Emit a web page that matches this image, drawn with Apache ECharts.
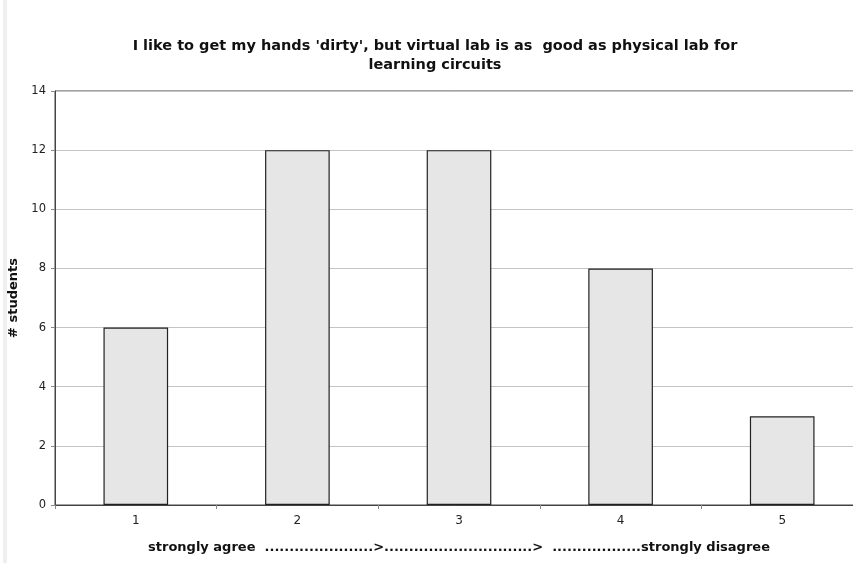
<!DOCTYPE html>
<html>
<head>
<meta charset="utf-8">
<script src="https://cdn.jsdelivr.net/npm/echarts@6/dist/echarts.min.js"></script>
<style>html,body{margin:0;padding:0;background:#fff}#c{width:853px;height:563px}</style>
</head>
<body>
<div id="c"></div>
<script>
const categories = ['1', '2', '3', '4', '5'];
const students = [6, 12, 12, 8, 3];
const titleText = "I like to get my hands 'dirty', but virtual lab is as  good as physical lab for\nlearning circuits";
const xName = 'strongly agree  ......................>..............................>  ..................strongly disagree';
const yName = '# students';

const chart = echarts.init(document.getElementById('c'), null, {renderer: 'canvas'});
const font = 'Verdana, "DejaVu Sans", sans-serif';
chart.setOption({
  animation: false,
  backgroundColor: '#fff',
  graphic: [{type: 'rect', shape: {x: 3, y: 0, width: 4, height: 563}, style: {fill: '#efefef'}, silent: true}],
  title: {
    text: titleText,
    left: 430, top: 32, textAlign: 'center',
    textStyle: {fontFamily: font, fontWeight: 'bold', fontSize: 14.5, color: '#111', lineHeight: 19}
  },
  grid: {left: 55, width: 808, top: 91, bottom: 58, containLabel: false, outerBoundsMode: 'none',
    show: true, borderColor: '#444', borderWidth: 1, backgroundColor: 'transparent'},
  xAxis: {
    type: 'category', data: categories, boundaryGap: true,
    name: xName, nameLocation: 'middle', nameGap: 36,
    nameTextStyle: {fontFamily: font, fontWeight: 'bold', fontSize: 13, color: '#111'},
    axisLine: {lineStyle: {color: '#444', width: 1}},
    axisTick: {show: true, length: 4, lineStyle: {color: '#888'}},
    axisLabel: {fontFamily: font, fontSize: 12, color: '#222', margin: 10}
  },
  yAxis: {
    type: 'value', min: 0, max: 14, interval: 2,
    name: yName, nameLocation: 'middle', nameGap: 28, nameRotate: 90,
    nameTextStyle: {fontFamily: font, fontWeight: 'bold', fontSize: 13, color: '#111'},
    axisLine: {show: true, lineStyle: {color: '#444', width: 1}},
    axisTick: {show: true, length: 4, lineStyle: {color: '#888'}},
    axisLabel: {fontFamily: font, fontSize: 11.5, color: '#222', margin: 9},
    splitLine: {show: true, lineStyle: {color: '#c4c4c4', width: 1}}
  },
  series: [{
    type: 'bar', data: students, barWidth: '40%',
    itemStyle: {color: '#e6e6e6', borderColor: '#222', borderWidth: 1.2}
  }]
});
</script>
</body>
</html>
